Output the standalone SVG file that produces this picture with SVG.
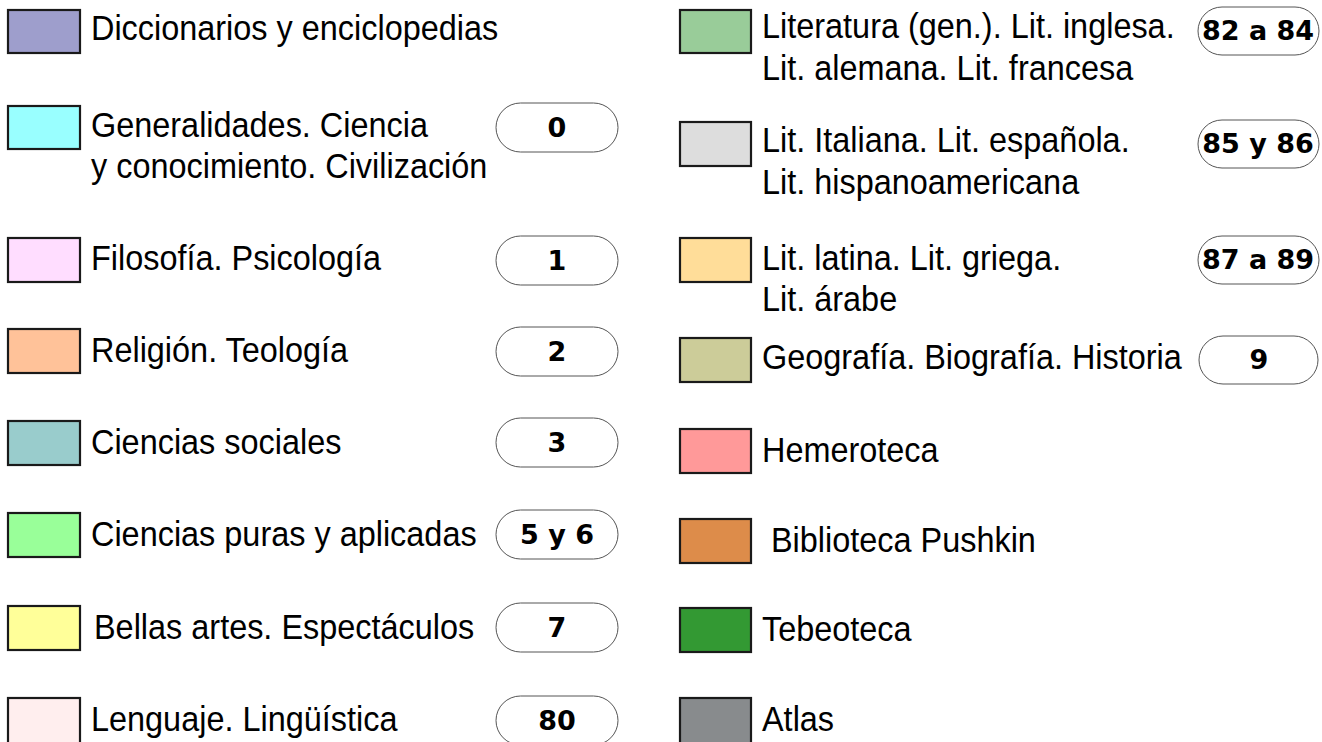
<svg xmlns="http://www.w3.org/2000/svg" width="1322" height="742" viewBox="0 0 1322 742">
<style>
.sw{stroke:#1a1a1a;stroke-width:2.2}
.lb{font-family:"Liberation Sans",Arial,sans-serif;font-size:34.5px;fill:#000}
.pill{fill:#fff;stroke:#555;stroke-width:1}
.num{font-family:"DejaVu Sans",Verdana,sans-serif;font-weight:bold;font-size:27px;fill:#000;text-anchor:middle}
</style>
<rect width="1322" height="742" fill="#fff"/>
<g id="dicc"><rect class="sw" x="8" y="10" width="72" height="43" fill="#9e9ecc"/><text class="lb" transform="translate(91,40) scale(0.94,1)">Diccionarios y enciclopedias</text></g>
<g id="gen"><rect class="sw" x="8" y="106" width="72" height="43" fill="#99ffff"/><text class="lb" transform="translate(91,137) scale(0.94,1)">Generalidades. Ciencia</text><text class="lb" transform="translate(91,178) scale(0.94,1)">y conocimiento. Civilización</text><rect class="pill" x="496" y="103" width="122" height="49" rx="24.5"/><text class="num" x="557" y="137">0</text></g>
<g id="filo"><rect class="sw" x="8" y="238" width="72" height="44" fill="#ffddff"/><text class="lb" transform="translate(91,270) scale(0.94,1)">Filosofía. Psicología</text><rect class="pill" x="496" y="236" width="122" height="49" rx="24.5"/><text class="num" x="557" y="270">1</text></g>
<g id="rel"><rect class="sw" x="8" y="329" width="72" height="44" fill="#ffc299"/><text class="lb" transform="translate(91,362) scale(0.94,1)">Religión. Teología</text><rect class="pill" x="496" y="327" width="122" height="49" rx="24.5"/><text class="num" x="557" y="361">2</text></g>
<g id="soc"><rect class="sw" x="8" y="421" width="72" height="44" fill="#99cccc"/><text class="lb" transform="translate(91,454) scale(0.94,1)">Ciencias sociales</text><rect class="pill" x="496" y="418" width="122" height="49" rx="24.5"/><text class="num" x="557" y="452">3</text></g>
<g id="pur"><rect class="sw" x="8" y="513" width="72" height="44" fill="#99ff99"/><text class="lb" transform="translate(91,546) scale(0.94,1)">Ciencias puras y aplicadas</text><rect class="pill" x="496" y="510" width="122" height="49" rx="24.5"/><text class="num" x="557" y="544">5 y 6</text></g>
<g id="bel"><rect class="sw" x="8" y="606" width="72" height="44" fill="#ffff99"/><text class="lb" transform="translate(94,639) scale(0.94,1)">Bellas artes. Espectáculos</text><rect class="pill" x="496" y="603" width="122" height="49" rx="24.5"/><text class="num" x="557" y="637">7</text></g>
<g id="len"><rect class="sw" x="8" y="698" width="72" height="46" fill="#ffeeee"/><text class="lb" transform="translate(91,731) scale(0.94,1)">Lenguaje. Lingüística</text><rect class="pill" x="496" y="696" width="122" height="49" rx="24.5"/><text class="num" x="557" y="730">80</text></g>
<g id="lit1"><rect class="sw" x="680" y="10" width="71" height="43" fill="#99cc99"/><text class="lb" transform="translate(762,38) scale(0.94,1)">Literatura (gen.). Lit. inglesa.</text><text class="lb" transform="translate(762,80) scale(0.94,1)">Lit. alemana. Lit. francesa</text><rect class="pill" x="1198" y="7" width="121" height="48" rx="24"/><text class="num" x="1258" y="40">82 a 84</text></g>
<g id="lit2"><rect class="sw" x="680" y="122" width="71" height="44" fill="#dddddd"/><text class="lb" transform="translate(762,152) scale(0.94,1)">Lit. Italiana. Lit. española.</text><text class="lb" transform="translate(762,194) scale(0.94,1)">Lit. hispanoamericana</text><rect class="pill" x="1198" y="120" width="121" height="48" rx="24"/><text class="num" x="1258" y="153">85 y 86</text></g>
<g id="lit3"><rect class="sw" x="680" y="238" width="71" height="44" fill="#ffdd99"/><text class="lb" transform="translate(762,270) scale(0.94,1)">Lit. latina. Lit. griega.</text><text class="lb" transform="translate(762,311) scale(0.94,1)">Lit. árabe</text><rect class="pill" x="1198" y="236" width="121" height="48" rx="24"/><text class="num" x="1258" y="269">87 a 89</text></g>
<g id="geo"><rect class="sw" x="680" y="338" width="71" height="44" fill="#cccc99"/><text class="lb" transform="translate(762,369) scale(0.94,1)">Geografía. Biografía. Historia</text><rect class="pill" x="1199" y="336" width="119" height="48" rx="24"/><text class="num" x="1259" y="369">9</text></g>
<g id="hem"><rect class="sw" x="680" y="429" width="71" height="44" fill="#ff9999"/><text class="lb" transform="translate(762,462) scale(0.94,1)">Hemeroteca</text></g>
<g id="push"><rect class="sw" x="680" y="519" width="71" height="44" fill="#dd8c4a"/><text class="lb" transform="translate(771,552) scale(0.94,1)">Biblioteca Pushkin</text></g>
<g id="tebe"><rect class="sw" x="680" y="608" width="71" height="44" fill="#339933"/><text class="lb" transform="translate(762,641) scale(0.94,1)">Tebeoteca</text></g>
<g id="atlas"><rect class="sw" x="680" y="698" width="71" height="46" fill="#888b8d"/><text class="lb" transform="translate(762,731) scale(0.94,1)">Atlas</text></g>
<g id="connectors"/>
</svg>
